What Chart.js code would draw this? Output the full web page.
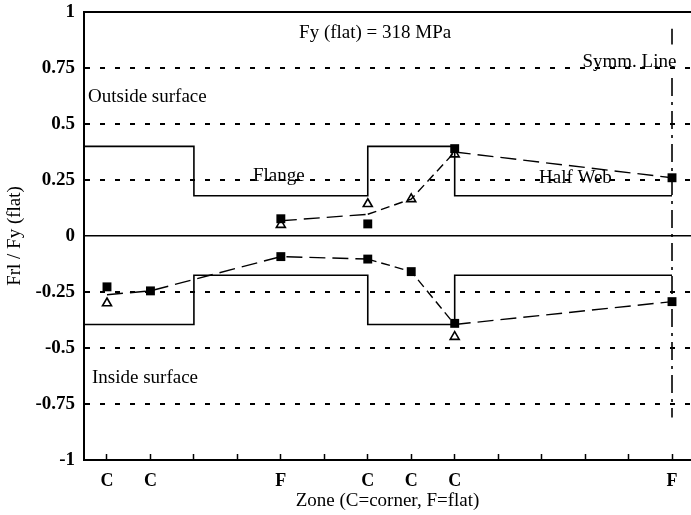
<!DOCTYPE html>
<html><head><meta charset="utf-8">
<script src="https://cdn.jsdelivr.net/npm/chart.js@4/dist/chart.umd.min.js"></script>
<style>html,body{margin:0;padding:0;background:#fff}</style>
</head><body>
<canvas id="c" width="691" height="515"></canvas>
<script>
// ---- axis range / ticks ----
const X_MIN = 0.471, X_MAX = 14.437;
const zonePositions = [1,2,3,4,5,6,7,8,9,10,11,12,13,14];
const zoneLabels = ['C','C','','','F','','C','C','C','','','','','F'];
const yTickValues = [-1,-0.75,-0.5,-0.25,0,0.25,0.5,0.75,1];
const yTickLabels = ['-1','-0.75','-0.5','-0.25','0','0.25','0.5','0.75','1'];

// ---- outside surface measurements ----
const outSquareX = [5,7,9,14];
const outSquareY = [0.077,0.054,0.39,0.26];
const outTriX = [5,7,8,9];
const outTriY = [0.05,0.143,0.165,0.365];
const outMeanX = [5,7,8,9,14];
const outMeanY = [0.068,0.097,0.165,0.375,0.26];

// ---- inside surface measurements ----
const inSquareX = [1,2,5,7,8,9,14];
const inSquareY = [-0.227,-0.245,-0.092,-0.103,-0.159,-0.39,-0.293];
const inTriX = [1,9];
const inTriY = [-0.30,-0.45];
const inMeanX = [1,2,5,7,8,9,14];
const inMeanY = [-0.262,-0.245,-0.092,-0.103,-0.159,-0.395,-0.293];

// ---- stepped model ----
const stepX = [X_MIN,3,7,9,14];
const outStepY = [0.4,0.18,0.4,0.18,0.18];
const inStepY = [-0.395,-0.175,-0.395,-0.175,-0.175];

// ---- symmetry line (two pieces around its label) ----
const symmTopX = [14,14];
const symmTopY = [0.925,0.855];
const symmLowX = [14,14];
const symmLowY = [0.705,-0.81];

// ---- text notes ----
const noteTexts = ['Fy (flat) = 318 MPa','Symm. Line','Outside surface','Flange','Half Web','Inside surface'];
const noteX = [7.17,13.02,0.563,4.36,10.94,0.655];
const noteY = [0.904,0.778,0.622,0.268,0.257,-0.636];
const noteAlign = ['center','center','left','left','left','left'];

const pts = (xs, ys) => xs.map((x,i)=>({x:x, y:ys[i]}));
const SERIF = '"Liberation Serif", "Times New Roman", serif';

const dashSeg = ctx => (ctx.p0.parsed.x >= 7 && ctx.p1.parsed.x <= 9) ? [9,5] : [16,7];

const notesPlugin = {
  id: 'notes',
  afterDatasetsDraw(chart) {
    const {ctx, scales:{x, y}} = chart;
    ctx.save();
    ctx.fillStyle = '#000';
    ctx.font = '19px ' + SERIF;
    ctx.textBaseline = 'middle';
    noteTexts.forEach((t,i) => {
      ctx.textAlign = noteAlign[i];
      ctx.fillText(t, x.getPixelForValue(noteX[i]), y.getPixelForValue(noteY[i]));
    });
    ctx.restore();
  }
};

new Chart(document.getElementById('c'), {
  type: 'line',
  data: {
    datasets: [
      {data: pts(stepX, outStepY), stepped: 'before', borderColor:'#000', borderWidth:1.6, pointRadius:0, fill:false},
      {data: pts(stepX, inStepY), stepped: 'before', borderColor:'#000', borderWidth:1.6, pointRadius:0, fill:false},
      {data: pts(outMeanX, outMeanY), borderColor:'#000', borderWidth:1.4, pointRadius:0, segment:{borderDash: dashSeg}},
      {data: pts(inMeanX, inMeanY), borderColor:'#000', borderWidth:1.4, pointRadius:0, segment:{borderDash: dashSeg}},
      {data: pts(symmTopX, symmTopY), borderColor:'#000', borderWidth:1.6, pointRadius:0},
      {data: pts(symmLowX, symmLowY), borderColor:'#000', borderWidth:1.6, pointRadius:0, borderDash:[18,6,3,6]},
      {data: pts(outSquareX, outSquareY), showLine:false, pointStyle:'rect', pointRadius:6.3, backgroundColor:'#000', borderColor:'#000', borderWidth:0},
      {data: pts(inSquareX, inSquareY), showLine:false, pointStyle:'rect', pointRadius:6.3, backgroundColor:'#000', borderColor:'#000', borderWidth:0},
      {data: pts(outTriX, outTriY), showLine:false, pointStyle:'triangle', pointRadius:5.2, backgroundColor:'#fff', borderColor:'#000', borderWidth:1.6},
      {data: pts(inTriX, inTriY), showLine:false, pointStyle:'triangle', pointRadius:5.2, backgroundColor:'#fff', borderColor:'#000', borderWidth:1.6}
    ]
  },
  options: {
    responsive: false,
    animation: false,
    events: [],
    layout: {padding: {left:0, top:12, right:0, bottom:0}, autoPadding: false},
    plugins: {legend:{display:false}, tooltip:{enabled:false}},
    scales: {
      x: {
        type: 'linear', min: X_MIN, max: X_MAX,
        afterBuildTicks: s => { s.ticks = zonePositions.map(v => ({value:v})); },
        afterFit: s => { s.height = 55; s.paddingLeft = 0; s.paddingRight = 0; s.paddingTop = 0; s.paddingBottom = 0; },
        grid: {display:true, drawOnChartArea:false, drawTicks:true, tickLength:-6, tickColor:'#000', tickWidth:1.5},
        border: {display:true, color:'#000', width:2},
        ticks: {
          autoSkip:false, maxRotation:0, padding:17, color:'#000',
          font:{family:SERIF, size:18, weight:'bold'},
          callback: (v) => { const i = zonePositions.indexOf(v); return i >= 0 ? zoneLabels[i] : ''; }
        },
        title: {display:true, text:'Zone (C=corner, F=flat)', color:'#000', font:{family:SERIF, size:19}, padding:{top:3, bottom:3}}
      },
      y: {
        type: 'linear', min: -1, max: 1,
        afterBuildTicks: s => { s.ticks = yTickValues.map(v => ({value:v})); },
        afterFit: s => { s.width = 84; s.paddingLeft = 0; s.paddingRight = 0; s.paddingTop = 0; s.paddingBottom = 0; },
        grid: {
          drawTicks:false,
          color: c => (c.tick && c.tick.value === -1) ? 'rgba(0,0,0,0)' : '#000',
          lineWidth: c => (c.tick && c.tick.value === 1) ? 2 : (c.tick && c.tick.value === 0 ? 1.5 : 2)
        },
        border: {display:true, color:'#000', width:2,
          dash: c => (c.tick && Math.abs(c.tick.value) !== 1 && c.tick.value !== 0) ? [5,10] : []},
        ticks: {
          padding:9, color:'#000',
          font:{family:SERIF, size:19, weight:'bold'},
          callback: (v) => { const i = yTickValues.indexOf(v); return i >= 0 ? yTickLabels[i] : ''; }
        },
        title: {display:true, text:'Frl / Fy (flat)', color:'#000', font:{family:SERIF, size:19}, padding:{top:4, bottom:4}}
      }
    }
  },
  plugins: [notesPlugin]
});
</script>
</body></html>
